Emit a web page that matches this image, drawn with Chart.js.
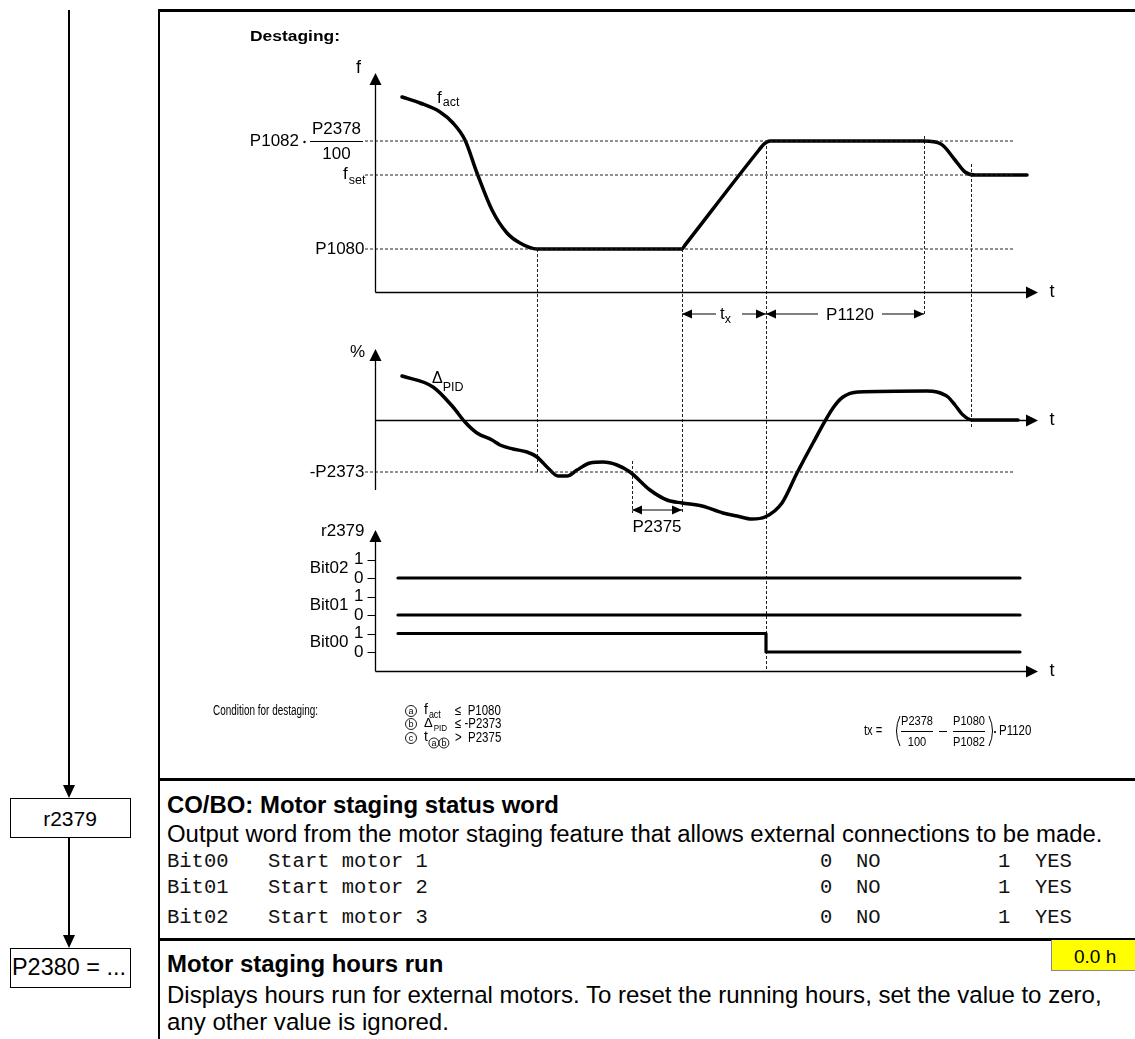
<!DOCTYPE html>
<html>
<head>
<meta charset="utf-8">
<title>Destaging</title>
<script src="https://cdn.jsdelivr.net/npm/chart.js@4.4.1/dist/chart.umd.min.js"></script>
<style>
  html, body { margin: 0; padding: 0; background: #fff; }
  body { position: relative; width: 1135px; height: 1039px; overflow: hidden;
         font-family: "Liberation Sans", Arial, sans-serif; color: #000; }
  .ln { position: absolute; background: #000; }
  .box { position: absolute; border: 1.5px solid #000; box-sizing: border-box; background: #fff; }
  .tx { position: absolute; white-space: pre; line-height: 1; transform: translateY(-50%); }
  .b { font-weight: bold; }
  .mono { font-family: "Liberation Mono", "Courier New", monospace; font-size: 20.5px; color: #111; }
  .down { position: absolute; width: 0; height: 0; border-left: 6px solid transparent;
          border-right: 6px solid transparent; border-top: 13px solid #000; }
  #wrap { position: absolute; left: 160px; top: 12px; width: 975px; height: 765px; }
</style>
</head>
<body>
<!-- left flow -->
<div class="ln" style="left:68px;top:10px;width:1.5px;height:776px"></div>
<div class="down" style="left:63px;top:785px"></div>
<div class="box" style="left:10px;top:798px;width:121px;height:40px"></div>
<div class="tx" style="left:70px;top:818px;font-size:21px;transform:translate(-50%,-50%)">r2379</div>
<div class="ln" style="left:68px;top:838px;width:1.5px;height:98px"></div>
<div class="down" style="left:63px;top:935px"></div>
<div class="box" style="left:10px;top:948px;width:121px;height:40px"></div>
<div class="tx" id="p2380" style="left:12px;top:968px;font-size:21px">P2380 = ...</div>

<!-- frame -->
<div class="ln" style="left:158px;top:9px;width:977px;height:2.5px"></div>
<div class="ln" style="left:158px;top:9px;width:2px;height:1030px"></div>
<div class="ln" style="left:158px;top:778px;width:977px;height:2.5px"></div>
<div class="ln" style="left:158px;top:938px;width:977px;height:2.5px"></div>

<div id="wrap"><canvas id="c" width="975" height="765"></canvas></div>

<!-- parameter texts -->
<div class="tx b" style="left:167px;top:805px;font-size:20px">CO/BO: Motor staging status word</div>
<div class="tx" id="out" style="left:167px;top:834px;font-size:20px">Output word from the motor staging feature that allows external connections to be made.</div>
<div class="tx mono" style="left:167px;top:862px">Bit00</div>
<div class="tx mono" style="left:268px;top:862px">Start motor 1</div>
<div class="tx mono" style="left:820px;top:862px">0</div>
<div class="tx mono" style="left:856px;top:862px">NO</div>
<div class="tx mono" style="left:998px;top:862px">1</div>
<div class="tx mono" style="left:1035px;top:862px">YES</div>
<div class="tx mono" style="left:167px;top:888px">Bit01</div>
<div class="tx mono" style="left:268px;top:888px">Start motor 2</div>
<div class="tx mono" style="left:820px;top:888px">0</div>
<div class="tx mono" style="left:856px;top:888px">NO</div>
<div class="tx mono" style="left:998px;top:888px">1</div>
<div class="tx mono" style="left:1035px;top:888px">YES</div>
<div class="tx mono" style="left:167px;top:918px">Bit02</div>
<div class="tx mono" style="left:268px;top:918px">Start motor 3</div>
<div class="tx mono" style="left:820px;top:918px">0</div>
<div class="tx mono" style="left:856px;top:918px">NO</div>
<div class="tx mono" style="left:998px;top:918px">1</div>
<div class="tx mono" style="left:1035px;top:918px">YES</div>

<div style="position:absolute;left:1051px;top:940px;width:84px;height:31px;background:#ffff00;border-left:1px solid #888;border-bottom:1px solid #888;box-sizing:border-box"></div>
<div class="tx" style="left:1074px;top:956px;font-size:19px">0.0 h</div>
<div class="tx b" style="left:167px;top:964px;font-size:20px">Motor staging hours run</div>
<div class="tx" id="disp" style="left:167px;top:995px;font-size:20px">Displays hours run for external motors. To reset the running hours, set the value to zero,</div>
<div class="tx" id="any" style="left:167px;top:1022px;font-size:20px">any other value is ignored.</div>

<script>
// time axis in diagram units (0 = axis origin)
const tMax = 663

// f_act curve
const tF = [27, 45, 65, 78, 90, 102, 117, 132, 145, 162, 307, 310, 384, 389, 395, 549, 566, 580, 590, 600, 652]
const fAct = [48.75, 47.25, 45, 42.25, 38, 29.75, 20.5, 14.75, 12.25, 10.75, 10.75, 11.71, 35.5, 37, 37.75, 37.75, 37, 33, 30, 29.25, 29.25]

// Delta PID curve
const tPid = [27, 58, 78, 90, 102, 117, 125, 138, 152, 162, 173, 183, 192, 202, 215, 228, 242, 255, 275, 292,
  307, 327, 348, 362, 377, 390, 407, 422, 438, 458, 468, 483, 552, 562, 573, 580, 588, 597, 643]
const dPid = [22, 16.5, 6.5, -1, -6.5, -10, -12.5, -14.5, -16, -18.5, -24, -28, -28, -25, -21.5, -21, -22.5, -26, -35, -40,
  -41.5, -43, -46.5, -48, -49.5, -48.5, -41.5, -26.5, -11.5, 6, 11.5, 14, 14.5, 14, 11.5, 7.5, 2.5, 0, 0]

// status word bits r2379
const tBits = [23, 391, 645]
const bit00 = [1, 0, 0]
const bit01 = [0, 0, 0]
const bit02 = [0, 0, 0]

// reference levels
const fRefNames = ["P1082*P2378/100", "f_set", "P1080"]
const fRefLevels = [37.75, 29.25, 10.75]
const pidRef = -26
const refSpan = [-10, 640]

// event times (dashed markers)
const markerT = [162, 257, 307, 391, 549, 596]

const FONT = '"Liberation Sans", Arial, sans-serif'
const pts = (xs, ys) => xs.map((t, i) => ({ x: t, y: ys[i] }))

// y axis band so that 0 sits at page pixel zeroPx with pxPerUnit scale
const AREA_TOP = 60, AREA_BOT = 672
function band(zeroPx, pxPerUnit) {
  return { min: -(AREA_BOT - zeroPx) / pxPerUnit, max: (zeroPx - AREA_TOP) / pxPerUnit }
}

function txt(ctx, s, x, y, size, opt = {}) {
  ctx.save()
  ctx.font = (opt.bold ? "bold " : "") + size + "px " + FONT
  ctx.textBaseline = "middle"
  ctx.fillStyle = "#000"
  const w = ctx.measureText(s).width
  const sx = opt.w ? opt.w / w : (opt.sx || 1)
  const ww = w * sx
  const ax = opt.align === "right" ? -ww : opt.align === "center" ? -ww / 2 : 0
  ctx.translate(x + ax, y)
  ctx.scale(sx, 1)
  ctx.fillText(s, 0, 0)
  ctx.restore()
  return ww
}

function head(ctx, x, y, dir, len = 12, half = 5.5) {
  ctx.beginPath()
  if (dir === "up") { ctx.moveTo(x, y); ctx.lineTo(x - half, y + len); ctx.lineTo(x + half, y + len) }
  if (dir === "right") { ctx.moveTo(x, y); ctx.lineTo(x - len, y - half); ctx.lineTo(x - len, y + half) }
  if (dir === "left") { ctx.moveTo(x, y); ctx.lineTo(x + len, y - half); ctx.lineTo(x + len, y + half) }
  ctx.closePath()
  ctx.fill()
}

function circled(ctx, ch, x, y, r = 5.5) {
  ctx.save()
  ctx.lineWidth = 0.9
  ctx.setLineDash([])
  ctx.beginPath()
  ctx.arc(x, y, r, 0, Math.PI * 2)
  ctx.stroke()
  ctx.restore()
  txt(ctx, ch, x, y + 0.5, 9, { align: "center" })
}

const diagram = {
  id: "diagram",
  beforeDatasetsDraw(chart) {
    const { ctx, chartArea: a } = chart
    const { x, yF, yP } = chart.scales
    const X = t => Math.round(x.getPixelForValue(t)) + 0.5
    ctx.save()
    ctx.strokeStyle = "#222"
    ctx.lineWidth = 1
    ctx.setLineDash([3, 2])
    const v = [
      [markerT[0], yF.getPixelForValue(fRefLevels[2]), yP.getPixelForValue(pidRef)],
      [markerT[1], yP.getPixelForValue(-20.5), yP.getPixelForValue(-46.5)],
      [markerT[2], yF.getPixelForValue(fRefLevels[2]), yP.getPixelForValue(-46.5)],
      [markerT[3], yF.getPixelForValue(fRefLevels[0]), a.bottom],
      [markerT[4], yF.getPixelForValue(39), yF.getPixelForValue(-5.5)],
      [markerT[5], yF.getPixelForValue(32), yP.getPixelForValue(-4)],
    ]
    v.forEach(([t, y1, y2]) => {
      ctx.beginPath()
      ctx.moveTo(X(t), y1)
      ctx.lineTo(X(t), y2)
      ctx.stroke()
    })
    ctx.restore()
  },
  afterDatasetsDraw(chart) {
    const { ctx, chartArea: a } = chart
    const { x, yF, yP, yB0, yB1, yB2 } = chart.scales
    const X = t => x.getPixelForValue(t)
    const P = (px, py) => [px - 160, py - 12]
    const x0 = Math.round(X(0)) + 0.5
    ctx.save()
    ctx.strokeStyle = "#000"
    ctx.fillStyle = "#000"
    ctx.lineWidth = 1.3

    // axes
    const fy0 = Math.round(yF.getPixelForValue(0)) + 0.5
    const py0 = Math.round(yP.getPixelForValue(0)) + 0.5
    const by0 = Math.round(a.bottom) - 0.5
    ctx.beginPath()
    ctx.moveTo(x0, fy0); ctx.lineTo(x0, yF.getPixelForValue(52.5))
    ctx.moveTo(x0, fy0); ctx.lineTo(a.right - 10, fy0)
    ctx.moveTo(x0, yP.getPixelForValue(-35)); ctx.lineTo(x0, yP.getPixelForValue(33))
    ctx.moveTo(x0, py0); ctx.lineTo(a.right - 10, py0)
    ctx.moveTo(x0, by0); ctx.lineTo(x0, yB2.getPixelForValue(2.2))
    ctx.moveTo(x0, by0); ctx.lineTo(a.right - 10, by0)
    ctx.stroke()
    head(ctx, x0, yF.getPixelForValue(54.75), "up", 12, 6)
    head(ctx, a.right, fy0, "right", 12, 6)
    head(ctx, x0, yP.getPixelForValue(35.5), "up", 12, 6)
    head(ctx, a.right, py0, "right", 12, 6)
    head(ctx, x0, yB2.getPixelForValue(2.6), "up", 12, 6)
    head(ctx, a.right, by0, "right", 12, 6)

    // bit ticks
    ctx.beginPath()
    ;[yB2, yB1, yB0].forEach(s => {
      [0, 1].forEach(v => {
        const y = Math.round(s.getPixelForValue(v)) + 0.5
        ctx.moveTo(x0 - 8, y); ctx.lineTo(x0, y)
      })
    })
    ctx.lineWidth = 1
    ctx.stroke()

    // dimension arrows
    const dim = (t1, t2, y, g1, g2) => {
      const x1 = X(t1), x2 = X(t2)
      ctx.beginPath()
      if (g1 == null) { ctx.moveTo(x1, y); ctx.lineTo(x2, y) }
      else { ctx.moveTo(x1, y); ctx.lineTo(g1, y); ctx.moveTo(g2, y); ctx.lineTo(x2, y) }
      ctx.lineWidth = 1.2
      ctx.stroke()
      head(ctx, x1, y, "left", 10, 4.5)
      head(ctx, x2, y, "right", 10, 4.5)
    }
    const yDim = yF.getPixelForValue(-5.5)
    dim(markerT[2], markerT[3], yDim, X(341), X(367))
    dim(markerT[3], markerT[4], yDim, X(443), X(507))
    dim(markerT[1], markerT[2], yP.getPixelForValue(-45))

    // labels
    const L = x0 - 12
    let p = P(250, 37)
    txt(ctx, "Destaging:", p[0], p[1], 14, { bold: true, w: 90 })
    txt(ctx, "f", x0 - 17, yF.getPixelForValue(56), 18, { align: "center" })
    p = P(437, 98)
    let w = txt(ctx, "f", p[0], p[1], 17)
    txt(ctx, "act", p[0] + w + 1, p[1] + 5, 12.5)

    const yR0 = yF.getPixelForValue(fRefLevels[0])
    txt(ctx, "P1082", P(299, 0)[0], yR0, 17, { align: "right" })
    ctx.beginPath(); ctx.arc(P(304.5, 0)[0], yR0 + 1, 1.2, 0, Math.PI * 2); ctx.fill()
    txt(ctx, "P2378", P(336.5, 0)[0], yR0 - 12, 17, { align: "center" })
    ctx.beginPath(); ctx.moveTo(P(310, 0)[0], Math.round(yR0) + 0.5); ctx.lineTo(P(363, 0)[0], Math.round(yR0) + 0.5)
    ctx.lineWidth = 1; ctx.stroke()
    txt(ctx, "100", P(336.5, 0)[0], yR0 + 13, 17, { align: "center" })
    const yR1 = yF.getPixelForValue(fRefLevels[1])
    w = txt(ctx, "f", P(343, 0)[0], yR1 - 1, 17)
    txt(ctx, "set", P(343, 0)[0] + w + 1, yR1 + 6, 12.5)
    txt(ctx, "P1080", L + 1, yF.getPixelForValue(fRefLevels[2]), 17, { align: "right" })

    txt(ctx, "t", P(1052, 0)[0], fy0, 18, { align: "center" })
    txt(ctx, "t", P(1052, 0)[0], py0, 18, { align: "center" })
    txt(ctx, "t", P(1052, 0)[0], by0, 18, { align: "center" })

    w = txt(ctx, "t", X(345), yDim, 17)
    txt(ctx, "x", X(345) + w, yDim + 6, 12.5)
    txt(ctx, "P1120", X(475), yDim + 1, 17, { align: "center" })
    txt(ctx, "P2375", X((markerT[1] + markerT[2]) / 2), yP.getPixelForValue(-53.5), 17, { align: "center" })

    txt(ctx, "%", x0 - 18, yP.getPixelForValue(34), 17, { align: "center" })
    p = P(432, 379)
    w = txt(ctx, "\u0394", p[0], p[1], 16)
    txt(ctx, "PID", p[0] + w, p[1] + 9, 12.5)
    txt(ctx, "-P2373", L + 1, yP.getPixelForValue(pidRef), 17, { align: "right" })

    txt(ctx, "r2379", x0 - 11, yB2.getPixelForValue(2.5), 17, { align: "right" })
    const bitNames = ["Bit02", "Bit01", "Bit00"]
    ;[yB2, yB1, yB0].forEach((s, i) => {
      txt(ctx, "1", x0 - 12, s.getPixelForValue(1), 17, { align: "right" })
      txt(ctx, "0", x0 - 12, s.getPixelForValue(0), 17, { align: "right" })
      txt(ctx, bitNames[i], x0 - 27, s.getPixelForValue(0.5), 17, { align: "right" })
    })

    // destaging condition
    const cx = P(213, 0)[0]
    const r1 = P(0, 711)[1], r2 = P(0, 724)[1], r3 = P(0, 738)[1]
    txt(ctx, "Condition for destaging:", cx, r1, 14, { w: 105 })
    const cc = P(411, 0)[0]
    circled(ctx, "a", cc, r1)
    circled(ctx, "b", cc, r2)
    circled(ctx, "c", cc, r3)
    const c2 = P(424, 0)[0], c3 = P(455, 0)[0]
    w = txt(ctx, "f", c2, r1 - 1, 14)
    txt(ctx, "act", c2 + w + 1, r1 + 4, 10.5, { sx: 0.85 })
    w = txt(ctx, "\u0394", c2, r2 - 1, 13)
    txt(ctx, "PID", c2 + w + 1, r2 + 4, 9.5, { sx: 0.85 })
    w = txt(ctx, "t", c2, r3 - 1, 14)
    circled(ctx, "a", c2 + w + 6, r3 + 5, 5)
    circled(ctx, "b", c2 + w + 16, r3 + 5, 5)
    txt(ctx, "\u2264  P1080", c3, r1, 14, { sx: 0.82 })
    txt(ctx, "\u2264 -P2373", c3, r2, 14, { sx: 0.82 })
    txt(ctx, ">  P2375", c3, r3, 14, { sx: 0.82 })

    // t_x formula
    const fy = P(0, 731)[1]
    txt(ctx, "tx =", P(864, 0)[0], fy, 14, { sx: 0.8 })
    const paren = (px, dir) => {
      ctx.beginPath()
      ctx.moveTo(px, fy - 15)
      ctx.quadraticCurveTo(px - 7 * dir, fy, px, fy + 15)
      ctx.lineWidth = 1
      ctx.stroke()
    }
    paren(P(900, 0)[0], 1)
    const frac = (cxp, num, den) => {
      const c = P(cxp, 0)[0]
      txt(ctx, num, c, fy - 10, 13.5, { align: "center", sx: 0.82 })
      txt(ctx, den, c, fy + 11, 13.5, { align: "center", sx: 0.82 })
      ctx.beginPath(); ctx.moveTo(c - 16, Math.round(fy) + 0.5); ctx.lineTo(c + 16, Math.round(fy) + 0.5)
      ctx.lineWidth = 1; ctx.stroke()
    }
    frac(917, "P2378", "100")
    ctx.beginPath(); ctx.moveTo(P(939, 0)[0], Math.round(fy) + 0.5); ctx.lineTo(P(947, 0)[0], Math.round(fy) + 0.5); ctx.stroke()
    frac(969, "P1080", "P1082")
    paren(P(989, 0)[0], -1)
    ctx.beginPath(); ctx.arc(P(995, 0)[0], fy + 1, 1.1, 0, Math.PI * 2); ctx.fill()
    txt(ctx, "P1120", P(999, 0)[0], fy, 14, { sx: 0.82 })
    ctx.restore()
  },
}

const thick = { borderColor: "#000", borderWidth: 3.5, pointRadius: 0, fill: false, borderCapStyle: "round", borderJoinStyle: "round" }
const refStyle = { borderColor: "#222", borderWidth: 1, borderDash: [3, 2], pointRadius: 0, fill: false, clip: false }
const refLine = (v, axis) => ({ ...refStyle, yAxisID: axis, data: [{ x: refSpan[0], y: v }, { x: refSpan[1], y: v }] })

new Chart(document.getElementById("c"), {
  type: "line",
  data: {
    datasets: [
      ...fRefLevels.map((v, i) => ({ ...refLine(v, "yF"), label: fRefNames[i] })),
      { ...refLine(pidRef, "yP"), label: "-P2373" },
      { ...thick, label: "f_act", yAxisID: "yF", data: pts(tF, fAct), cubicInterpolationMode: "monotone" },
      { ...thick, label: "Delta PID", yAxisID: "yP", data: pts(tPid, dPid), cubicInterpolationMode: "monotone" },
      { ...thick, borderWidth: 3.2, label: "Bit02", yAxisID: "yB2", data: pts(tBits, bit02), stepped: true, clip: false },
      { ...thick, borderWidth: 3.2, label: "Bit01", yAxisID: "yB1", data: pts(tBits, bit01), stepped: true, clip: false },
      { ...thick, borderWidth: 3.2, label: "Bit00", yAxisID: "yB0", data: pts(tBits, bit00), stepped: true, clip: false },
    ],
  },
  options: {
    responsive: false,
    animation: false,
    events: [],
    layout: { padding: { left: 215, right: 97, top: 48, bottom: 105 } },
    plugins: { legend: { display: false }, tooltip: { enabled: false } },
    scales: {
      x: { type: "linear", min: 0, max: tMax, display: false },
      yF: { type: "linear", ...band(292, 4), display: false },
      yP: { type: "linear", ...band(420, 2), display: false },
      yB2: { type: "linear", ...band(578, 18.5), display: false },
      yB1: { type: "linear", ...band(615, 18.5), display: false },
      yB0: { type: "linear", ...band(652, 18.5), display: false },
    },
  },
  plugins: [diagram],
})

// fit long text lines to the width they take in the page
function fit(id, w) {
  const el = document.getElementById(id)
  const fs = parseFloat(getComputedStyle(el).fontSize)
  const size = fs * w / el.getBoundingClientRect().width
  el.style.fontSize = size + "px"
  return size
}
const bodySize = fit("out", 936)
const ds = fit("disp", 935)
document.getElementById("any").style.fontSize = ds + "px"
document.querySelectorAll(".tx.b").forEach(el => { el.style.fontSize = bodySize + "px" })
fit("p2380", 114)
</script>
</body>
</html>
